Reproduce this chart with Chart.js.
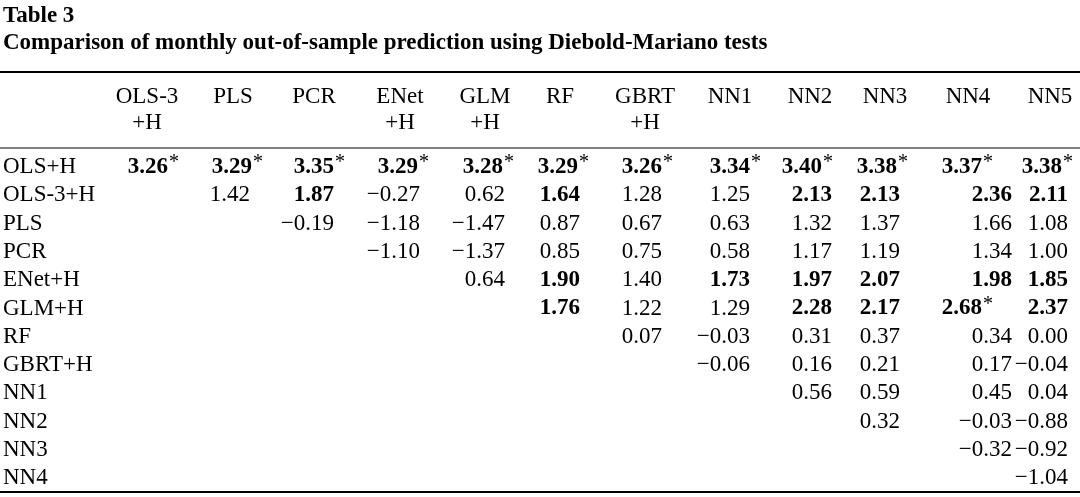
<!DOCTYPE html>
<html><head><meta charset="utf-8">
<script src="https://cdn.jsdelivr.net/npm/chart.js@4/dist/chart.umd.min.js"></script>
<style>html,body{margin:0;padding:0;background:#fff}#c{display:block}</style>
</head><body>
<div style="width:1080px;height:497px"><canvas id="c"></canvas></div>
<script>
const titleLines = ["Table 3", "Comparison of monthly out-of-sample prediction using Diebold-Mariano tests"];
const columns = [["OLS-3","+H"],["PLS"],["PCR"],["ENet","+H"],["GLM","+H"],["RF"],["GBRT","+H"],["NN1"],["NN2"],["NN3"],["NN4"],["NN5"]];
const rowLabels = ["OLS+H","OLS-3+H","PLS","PCR","ENet+H","GLM+H","RF","GBRT+H","NN1","NN2","NN3","NN4"];
const values = [
 ["3.26*","3.29*","3.35*","3.29*","3.28*","3.29*","3.26*","3.34*","3.40*","3.38*","3.37*","3.38*"],
 ["","1.42","1.87","−0.27","0.62","1.64","1.28","1.25","2.13","2.13","2.36","2.11"],
 ["","","−0.19","−1.18","−1.47","0.87","0.67","0.63","1.32","1.37","1.66","1.08"],
 ["","","","−1.10","−1.37","0.85","0.75","0.58","1.17","1.19","1.34","1.00"],
 ["","","","","0.64","1.90","1.40","1.73","1.97","2.07","1.98","1.85"],
 ["","","","","","1.76","1.22","1.29","2.28","2.17","2.68*","2.37"],
 ["","","","","","","0.07","−0.03","0.31","0.37","0.34","0.00"],
 ["","","","","","","","−0.06","0.16","0.21","0.17","−0.04"],
 ["","","","","","","","","0.56","0.59","0.45","0.04"],
 ["","","","","","","","","","0.32","−0.03","−0.88"],
 ["","","","","","","","","","","−0.32","−0.92"],
 ["","","","","","","","","","","","−1.04"]
];
const boldCells = [
 [0,1,2,3,4,5,6,7,8,9,10,11],
 [2,5,8,9,10,11],[],[],
 [5,7,8,9,10,11],
 [5,8,9,10,11],[],[],[],[],[],[]
];
// layout constants (pixel space of the linear scales)
const colRight = [168,250,334,420,505,580,662,750,832,900,1012,1068];
const colRightStarRow = [168,252,334,418,503,578,662,750,822,897,982,1062];
const headerCenter = [147,233,314,400,485,560,645,730,810,885,968,1050];
const headerY = [97,123];
const rowY0 = 167, rowStep = 28.3;
const F = "'Liberation Serif','DejaVu Serif',serif";
const FS = 23;

const pts = [];
values.forEach((r,i)=>r.forEach((v,j)=>{ if(v) pts.push({x:colRight[j], y:rowY0+i*rowStep}); }));

const tablePlugin = {
 id:'table',
 afterDraw(chart){
  const c = chart.ctx, X = chart.scales.x, Y = chart.scales.y;
  const px = v=>X.getPixelForValue(v), py = v=>Y.getPixelForValue(v);
  c.save(); c.fillStyle='#000'; c.strokeStyle='#000'; c.textBaseline='middle';
  c.font = "bold 23px "+F; c.textAlign='left';
  c.fillText(titleLines[0], px(3), py(16));
  c.fillText(titleLines[1], px(3), py(43));
  const rule=(y,w)=>{c.lineWidth=w;c.beginPath();c.moveTo(px(0),py(y));c.lineTo(px(1080),py(y));c.stroke();};
  rule(72,2); rule(148,1); rule(492,2);
  c.font = FS+"px "+F; c.textAlign='center';
  columns.forEach((h,j)=>{ h.forEach((t,k)=>c.fillText(t, px(headerCenter[j]), py(headerY[k]))); });
  rowLabels.forEach((l,i)=>{ c.textAlign='left'; c.font=FS+"px "+F; c.fillText(l, px(3), py(rowY0+i*rowStep)); });
  values.forEach((r,i)=>r.forEach((v,j)=>{
   if(!v) return;
   const star = v.endsWith('*'); const num = star? v.slice(0,-1): v;
   const bold = boldCells[i].includes(j);
   const y = py(rowY0+i*rowStep);
   const xr = star ? colRightStarRow[j] : colRight[j];
   c.font = (bold?"bold ":"")+FS+"px "+F; c.textAlign='right';
   c.fillText(num, px(xr), y);
   if(star){ c.font="20px "+F; c.textAlign='left'; c.fillText('*', px(xr+1), y-4); }
  }));
  c.restore();
 }
};

new Chart(document.getElementById('c'),{
 type:'scatter',
 data:{datasets:[{data:pts,pointRadius:0,showLine:false}]},
 options:{responsive:true,maintainAspectRatio:false,animation:false,
  layout:{padding:0},
  plugins:{legend:{display:false},tooltip:{enabled:false}},
  scales:{x:{type:'linear',min:0,max:1080,display:false},
          y:{type:'linear',min:0,max:497,reverse:true,display:false}}},
 plugins:[tablePlugin]
});
</script></body></html>
